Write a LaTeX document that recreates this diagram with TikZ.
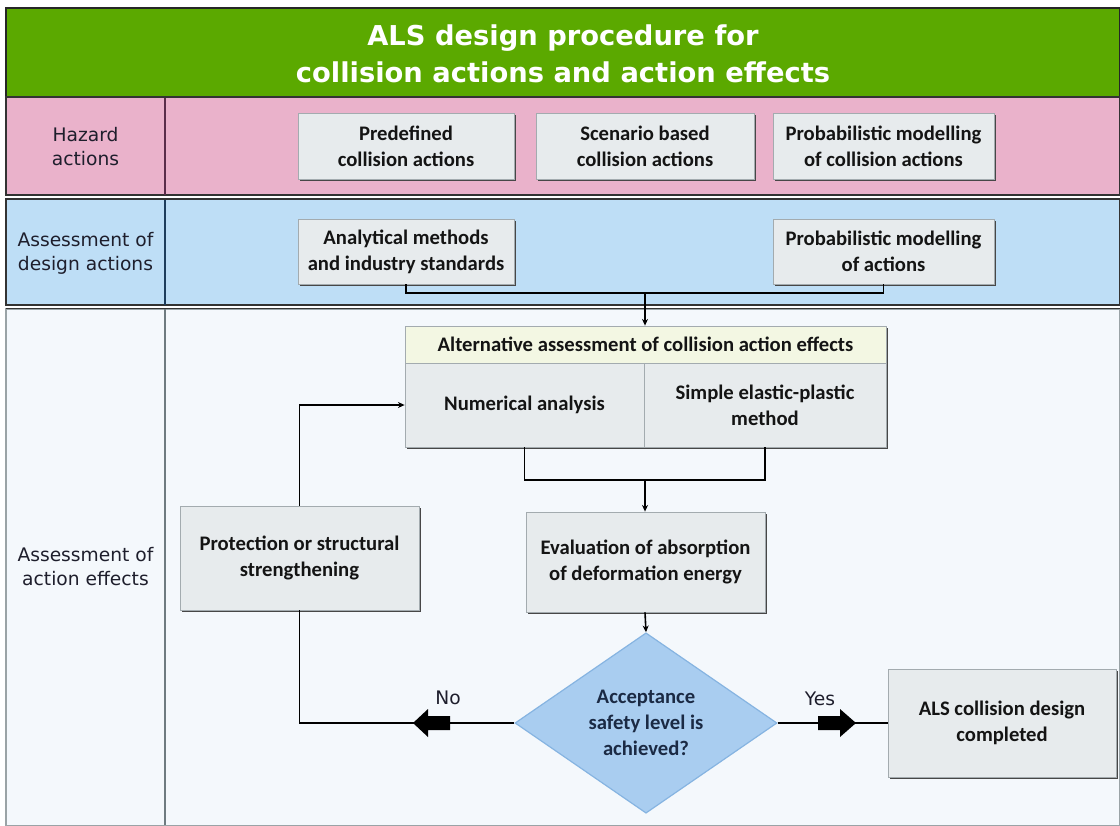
\documentclass[tikz,border=0pt]{standalone}
\usepackage{fontspec}
\setmainfont{Carlito}
\newfontfamily\lblfont{DejaVu Sans}
\usetikzlibrary{shapes.geometric,shadows,arrows.meta,calc}
\definecolor{ttlgreen}{HTML}{5BA900}
\definecolor{rowpink}{HTML}{EAB2CB}
\definecolor{rowblue}{HTML}{BEDEF6}
\definecolor{rowwhite}{HTML}{F4F8FC}
\definecolor{boxfill}{HTML}{E7EBED}
\definecolor{boxedge}{HTML}{A3ABAF}
\definecolor{altfill}{HTML}{F3F7E3}
\definecolor{diafill}{HTML}{A9CDF0}
\definecolor{diaedge}{HTML}{86B4E1}
\definecolor{divpink}{HTML}{5A2D4A}
\definecolor{divblue}{HTML}{1E3D5C}
\definecolor{divgrey}{HTML}{6F7B80}
\definecolor{txtnavy}{HTML}{1B2A44}
\definecolor{lbltext}{HTML}{1E1E2C}
\begin{document}
\begin{tikzpicture}[x=0.75pt,y=-0.75pt,
  procbox/.style={draw=boxedge, line width=0.6pt, fill=boxfill, align=center,
    inner sep=2pt, text=black!92,
    font=\fontsize{15.5}{19.5}\selectfont\bfseries,
    drop shadow={shadow xshift=1.6pt, shadow yshift=-1.4pt, fill=black!72, opacity=1}},
  rowlabel/.style={align=center, text=lbltext, font=\lblfont\fontsize{14}{18}\selectfont},
  conn/.style={line width=1.2pt, black},
  arr/.style={conn, -{Stealth[length=5pt,width=4.5pt]}},
  blockarrow/.style={fill=black}
]
\useasboundingbox (0,0) rectangle (1120,825);
\fill[white] (0,0) rectangle (1120,825);

% row backgrounds
\filldraw[fill=ttlgreen, draw=black!85, line width=0.9pt] (6,8) rectangle (1120,97);
\draw[black, line width=1.5pt] (6,97) -- (1120,97);
\filldraw[fill=rowpink, draw=black!80, line width=0.9pt] (6,97) rectangle (1120,195);
\filldraw[fill=rowblue, draw=black!80, line width=0.9pt] (6,199) rectangle (1120,305);
\filldraw[fill=rowwhite, draw=divgrey!70, line width=0.9pt] (6,309) rectangle (1120,826);
\draw[black!80, line width=0.9pt] (6,308.5) -- (1120,308.5);
\draw[divpink, line width=2.2pt] (165,97.5) -- (165,194.5);
\draw[divblue, line width=2.2pt] (165,199.5) -- (165,304.5);
\draw[divgrey, line width=2.2pt] (165,309) -- (165,825);

% title
\node[align=center, text=white, font=\lblfont\bfseries\fontsize{20.5}{27.75}\selectfont] (title) at (563,53.5)
  {ALS design procedure for\\collision actions and action effects};

% row labels
\node[rowlabel] (lhaz) at (85.5,147) {Hazard\\actions};
\node[rowlabel] (ldes) at (85.5,253) {Assessment of\\design actions};
\node[rowlabel] (leff) at (85.5,567) {Assessment of\\action effects};

% hazard row
\node[procbox, minimum width=162pt, minimum height=49.5pt] (hz1) at (406,146) {Predefined\\collision actions};
\node[procbox, minimum width=163.5pt, minimum height=49.5pt] (hz2) at (645,146) {Scenario based\\collision actions};
\node[procbox, minimum width=165.75pt, minimum height=49.5pt] (hz3) at (883.5,146) {Probabilistic modelling\\of collision actions};

% design actions row
\node[procbox, minimum width=162pt, minimum height=48.75pt] (as1) at (406,251.5) {Analytical methods\\and industry standards};
\node[procbox, minimum width=165.75pt, minimum height=48.75pt] (as2) at (883.5,251.5) {Probabilistic modelling\\of actions};

% alternative assessment
\node[procbox, fill=altfill, minimum width=360.75pt, minimum height=27.75pt] (alt) at (645.5,344.5) {Alternative assessment of collision action effects};
\node[procbox, minimum width=179.25pt, minimum height=63pt] (num) at (524.5,405) {Numerical analysis};
\node[procbox, minimum width=181.5pt, minimum height=63pt] (simp) at (765,405) {Simple elastic-plastic\\method};

\node[procbox, minimum width=179.25pt, minimum height=75pt] (eval) at (645.5,562) {Evaluation of absorption\\of deformation energy};
\node[procbox, minimum width=179.25pt, minimum height=78pt] (prot) at (299.5,558) {Protection or structural\\strengthening};

\node[diamond, fill=diafill, draw=diaedge, line width=0.9pt, minimum width=196.5pt, minimum height=135pt,
  inner sep=0pt, align=center, text=txtnavy, font=\fontsize{15.5}{19.5}\selectfont\bfseries] (dia) at (646,723)
  {Acceptance\\safety level is\\achieved?};

\node[procbox, minimum width=171pt, minimum height=81pt] (done) at (1002,723) {ALS collision design\\completed};

% connectors
\coordinate (j1) at (645,293);
\draw[conn] (as1.south) |- (j1);
\draw[conn] (as2.south) |- (j1);
\draw[arr] (j1) -- (alt.north -| j1);

\coordinate (j2) at (645,480);
\draw[conn] (num.south) |- (j2);
\draw[conn] (simp.south) |- (j2);
\draw[arr] (j2) -- (eval.north -| j2);

\draw[arr] (eval.south -| j2) -- (dia.north);

\draw[conn] (dia.west) -| (prot.south);
\draw[arr] (prot.north) |- (num.west);
\draw[conn] (dia.east) -- (done.west);

% block arrows
\fill[blockarrow] (413,723) -- (428,709) -- (428,716) -- (450,716) -- (450,730) -- (428,730) -- (428,737) -- cycle;
\fill[blockarrow] (856,723) -- (840,709) -- (840,716) -- (818,716) -- (818,730) -- (840,730) -- (840,737) -- cycle;

\node[rowlabel] (lno) at (448,698) {No};
\node[rowlabel] (lyes) at (820,699) {Yes};
\end{tikzpicture}
\end{document}
